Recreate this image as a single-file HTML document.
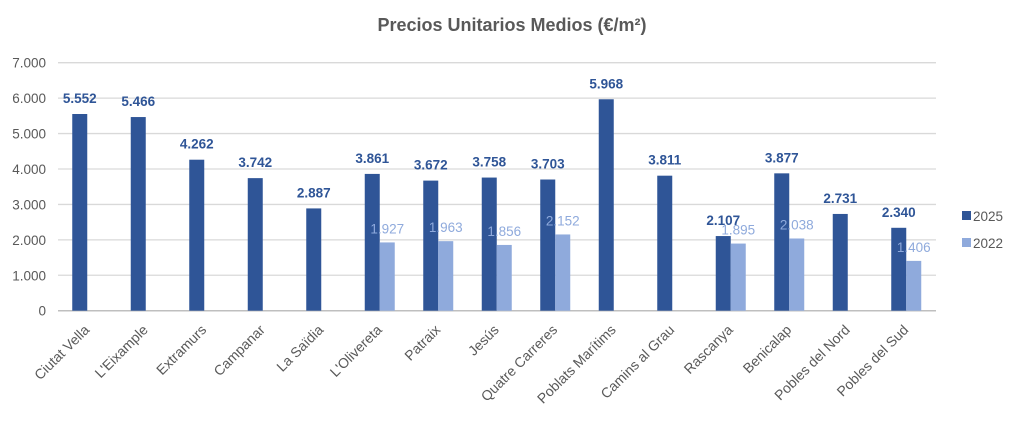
<!DOCTYPE html>
<html><head><meta charset="utf-8"><style>
body{margin:0;background:#fff;}
svg text{font-family:"Liberation Sans",sans-serif;}
</style></head><body>
<svg width="1024" height="418" xmlns="http://www.w3.org/2000/svg">
<rect width="1024" height="418" fill="#fff"/>
<text x="512" y="31" text-anchor="middle" font-size="18" font-weight="bold" fill="#595959">Precios Unitarios Medios (€/m²)</text>
<g id="g"></g>
</svg>
<script>
const g=document.getElementById('g');
const ns='http://www.w3.org/2000/svg';
function el(t,a,txt){const e=document.createElementNS(ns,t);for(const k in a)e.setAttribute(k,a[k]);if(txt!=null)e.textContent=txt;g.appendChild(e);return e;}
const y0=310.7,sc=(310.7-62.7)/7000,x0=58,cw=58.5;
for(let i=0;i<=7;i++){const y=y0-i*1000*sc;
el('line',{x1:x0,x2:936,y1:y,y2:y,stroke:i==0?'#bfbfbf':'#d9d9d9','stroke-width':i==0?1.5:1.3});
el('text',{x:46,y:y+5,'text-anchor':'end','font-size':13.5,fill:'#595959'},i==0?'0':i+'.000');}
const d=[["Ciutat Vella",5552],["L'Eixample",5466],["Extramurs",4262],["Campanar",3742],["La Saïdia",2887],["L'Olivereta",3861,1927],["Patraix",3672,1963],["Jesús",3758,1856],["Quatre Carreres",3703,2152],["Poblats Marítims",5968],["Camins al Grau",3811],["Rascanya",2107,1895],["Benicalap",3877,2038],["Pobles del Nord",2731],["Pobles del Sud",2340,1406]];
const f=v=>Math.floor(v/1000)+'.'+String(v%1000).padStart(3,'0');
d.forEach((r,i)=>{const c=x0+cw*(i+0.5);
let h=r[1]*sc;el('rect',{x:c-15,y:y0-h,width:15,height:h,fill:'#2f5597'});
if(r[2]){let h2=r[2]*sc;el('rect',{x:c,y:y0-h2,width:15,height:h2,fill:'#8faadc'});
el('text',{x:c+7.5,y:y0-h2-9,'text-anchor':'middle','font-size':13.5,fill:'#8faadc'},f(r[2]));}
el('text',{x:c-7.5,y:y0-h-11,'text-anchor':'middle','font-size':13.5,'font-weight':'bold',fill:'#2f5597'},f(r[1]));
el('text',{x:c+3,y:y0+20,'text-anchor':'end','font-size':14,fill:'#595959',transform:`rotate(-45 ${c+3} ${y0+20})`},r[0]);
});
el('rect',{x:962,y:211,width:9,height:9,fill:'#2f5597'});
el('text',{x:973,y:221,'font-size':13.5,fill:'#595959'},'2025');
el('rect',{x:962,y:238,width:9,height:9,fill:'#8faadc'});
el('text',{x:973,y:248,'font-size':13.5,fill:'#595959'},'2022');
</script>
</body></html>
